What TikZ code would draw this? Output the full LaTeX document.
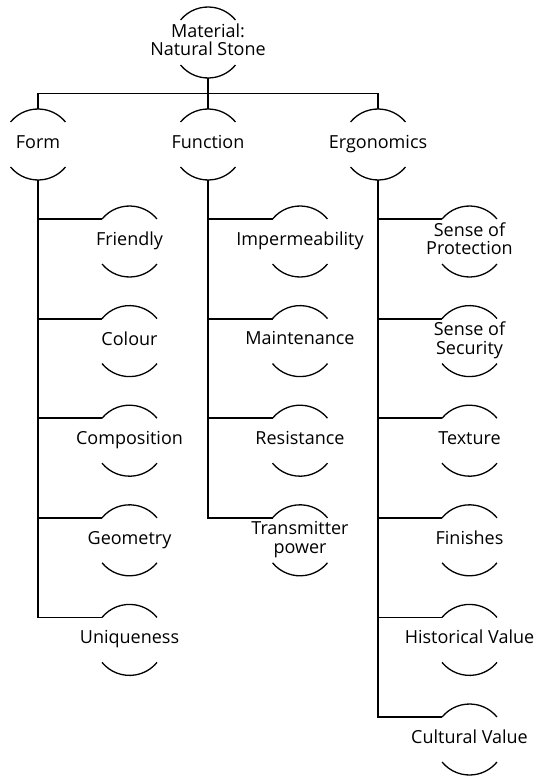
\documentclass[tikz,border=0pt]{standalone}
\usepackage{fontspec}
\setmainfont{Open Sans}
\usepackage{tikz}
\usetikzlibrary{calc}

\begin{document}
\begin{tikzpicture}[x=1pt, y=1pt]
\tikzset{
  concept/.style={minimum height=71pt, minimum width=55pt, inner sep=0pt, outer sep=0pt,
    align=center, font=\fontsize{18}{18.5}\selectfont,
    execute at begin node=\strut, execute at end node=\strut},
  bowl/.style={line width=1.3pt},
  link/.style={line width=1.8pt},
}
\useasboundingbox (0,0) rectangle (535,-778);

\node[concept] (root) at (208,-42.5) {Material:\\Natural Stone};
\node[concept] (form) at (38,-144.5) {Form};
\node[concept] (function) at (208,-144.5) {Function};
\node[concept] (ergonomics) at (378,-144.5) {Ergonomics};
\coordinate (bus) at (208,-93.5);

\draw[link] (root.south) -- (function.north);
\draw[link] (form.north) |- (bus) -| (ergonomics.north);

% form branch
\foreach \name/\txt [count=\i] in {friendly/Friendly, colour/Colour, composition/Composition,
    geometry/Geometry, uniqueness/Uniqueness} {
  \node[concept] (\name) at (129.5,{-241.5-99.6*(\i-1)}) {\txt};
  \coordinate (\name-in) at ($(\name.center)+(140.7:35.5)$);
  \draw[link] (form.south |- \name-in) -- (\name-in);
}
\draw[link] (form.south) |- (uniqueness-in);

% function branch
\foreach \name/\txt [count=\i] in {impermeability/Impermeability, maintenance/Maintenance,
    resistance/Resistance, transmitter/{Transmitter\\power}} {
  \node[concept] (\name) at (300,{-241.5-99.6*(\i-1)}) {\txt};
  \coordinate (\name-in) at ($(\name.center)+(140.7:35.5)$);
  \draw[link] (function.south |- \name-in) -- (\name-in);
}
\draw[link] (function.south) |- (transmitter-in);

% ergonomics branch
\foreach \name/\txt [count=\i] in {protection/{Sense of\\Protection}, security/{Sense of\\Security},
    texture/Texture, finishes/Finishes, historical/Historical Value, cultural/Cultural Value} {
  \node[concept] (\name) at (469.5,{-241.5-99.6*(\i-1)}) {\txt};
  \coordinate (\name-in) at ($(\name.center)+(140.7:35.5)$);
  \draw[link] (ergonomics.south |- \name-in) -- (\name-in);
}
\draw[link] (ergonomics.south) |- (cultural-in);

% top and bottom bowls round every label
\foreach \n in {root, form, function, ergonomics,
    friendly, colour, composition, geometry, uniqueness,
    impermeability, maintenance, resistance, transmitter,
    protection, security, texture, finishes, historical, cultural}
  \draw[bowl] ($(\n.center)+(140.7:35.5)$) arc[start angle=140.7, end angle=39.3, radius=35.5]
              ($(\n.center)+(219.3:35.5)$) arc[start angle=219.3, end angle=320.7, radius=35.5];
\end{tikzpicture}
\end{document}
